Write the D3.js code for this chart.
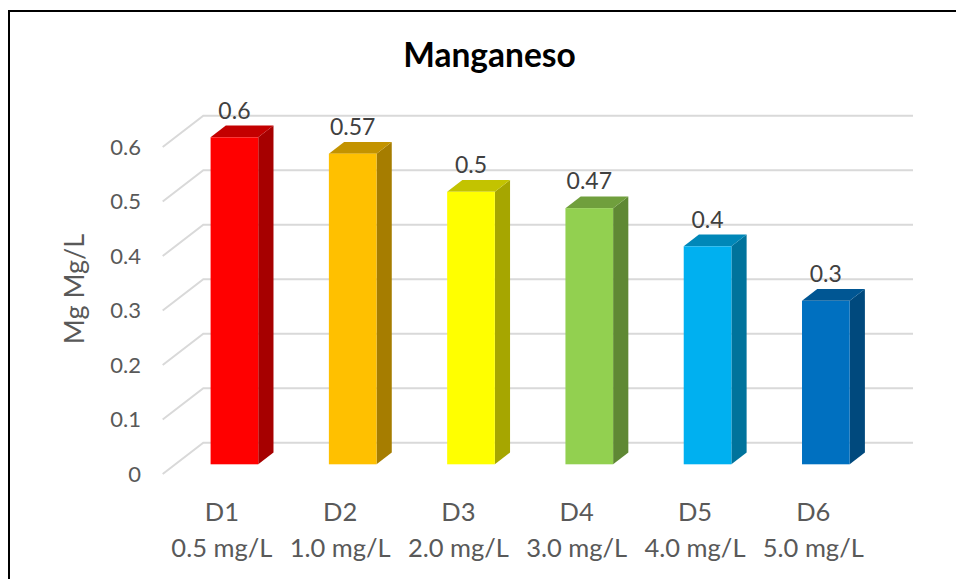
<!DOCTYPE html>
<html>
<head>
<meta charset="utf-8">
<script src="https://cdn.jsdelivr.net/npm/d3@7"></script>
<style>
  body { margin: 0; background: #fff; }
  text { font-family: Lato, "Open Sans", sans-serif; }
</style>
</head>
<body>
<svg class="chart"></svg>
<script>
const categories = ["D1", "D2", "D3", "D4", "D5", "D6"];
const doses = ["0.5 mg/L", "1.0 mg/L", "2.0 mg/L", "3.0 mg/L", "4.0 mg/L", "5.0 mg/L"];
const values = [0.6, 0.57, 0.5, 0.47, 0.4, 0.3];
const yTicks = [0, 0.1, 0.2, 0.3, 0.4, 0.5, 0.6];
const frontColors = ["#ff0000", "#ffc000", "#ffff00", "#92d050", "#00b0f0", "#0070c0"];

function draw() {
  const width = 956;
  const height = 579;
  const svg = d3.select(".chart")
      .attr("width", width)
      .attr("height", height);

  // oblique depth of the floor (front edge -> back wall)
  const depth = { dx: 40.6, dy: -31.3 };
  const barFront = 0.31, barBack = 0.685;

  const x = d3.scaleBand()
      .domain(categories)
      .range([162.7, 872.4])
      .paddingInner(0.597)
      .paddingOuter(0.2985);

  // value scale on the front plane of the floor
  const y = d3.scaleLinear().domain([0, 0.6]).range([474, 147]);

  const off = f => [depth.dx * f, depth.dy * f];

  // outer frame
  svg.append("rect")
      .attr("x", 9).attr("y", 11)
      .attr("width", 1000).attr("height", 700)
      .attr("fill", "none")
      .attr("stroke", "#000")
      .attr("stroke-width", 2);

  // title
  svg.append("text")
      .attr("x", 489.5).attr("y", 67)
      .attr("text-anchor", "middle")
      .attr("font-size", 33.5)
      .attr("font-weight", "bold")
      .attr("fill", "#000")
      .text("Manganeso");

  // back wall gridlines + side wall lines
  const grid = svg.append("g");
  const [bx, by] = off(1);
  const x0 = x.range()[0], x1 = x.range()[1];
  grid.selectAll("path")
      .data(yTicks)
      .enter()
    .append("path")
      .attr("d", d => `M${x0},${y(d)}L${x0 + bx},${y(d) + by}L${x1 + bx},${y(d) + by}`)
      .attr("fill", "none")
      .attr("stroke", "#d9d9d9")
      .attr("stroke-width", 2);

  // y axis labels
  const yAxis = d3.axisLeft(y)
      .tickValues(yTicks)
      .tickSize(0)
      .tickPadding(0)
      .tickFormat(d3.format(""));
  const ax = svg.append("g")
      .attr("transform", "translate(141,0)")
      .call(yAxis);
  ax.select(".domain").remove();
  ax.selectAll("text")
      .attr("font-size", 22)
      .attr("fill", "#595959")
      .style("font-family", "Lato, sans-serif");

  svg.append("text")
      .attr("transform", "translate(84,289) rotate(-90)")
      .attr("text-anchor", "middle")
      .attr("font-size", 27)
      .attr("fill", "#595959")
      .text("Mg Mg/L");

  // bars
  const bw = x.bandwidth();
  const [fx, fy] = off(barFront);
  const [kx, ky] = off(barBack - barFront);
  const bars = svg.append("g")
      .selectAll("g")
      .data(values)
      .enter()
    .append("g");

  const left = (d, i) => x(categories[i]) + fx;
  const top = d => y(d) + fy;
  const bottom = y(0) + fy;

  bars.append("path")
      .attr("d", (d, i) => {
        const l = left(d, i) + bw;
        return `M${l},${top(d)}L${l + kx},${top(d) + ky}L${l + kx},${bottom + ky}L${l},${bottom}Z`;
      })
      .attr("fill", (d, i) => d3.color(frontColors[i]).darker(1.2));

  bars.append("path")
      .attr("d", (d, i) => {
        const l = left(d, i);
        return `M${l},${top(d)}L${l + kx},${top(d) + ky}L${l + bw + kx},${top(d) + ky}L${l + bw},${top(d)}Z`;
      })
      .attr("fill", (d, i) => d3.color(frontColors[i]).darker(0.75));

  bars.append("rect")
      .attr("x", (d, i) => left(d, i))
      .attr("y", d => top(d))
      .attr("width", bw)
      .attr("height", d => bottom - top(d))
      .attr("fill", (d, i) => frontColors[i]);

  bars.append("text")
      .attr("x", (d, i) => left(d, i) + bw / 2)
      .attr("y", d => top(d) + ky - 7)
      .attr("text-anchor", "middle")
      .attr("font-size", 23)
      .attr("fill", "#404040")
      .text(d => d);

  // category labels
  const cats = svg.append("g")
      .selectAll("g")
      .data(categories)
      .enter()
    .append("g")
      .attr("transform", d => `translate(${x(d) + bw / 2},0)`);
  cats.append("text")
      .attr("y", 521)
      .attr("text-anchor", "middle")
      .attr("font-size", 25.5)
      .attr("fill", "#595959")
      .text(d => d);
  cats.append("text")
      .attr("y", 557)
      .attr("text-anchor", "middle")
      .attr("font-size", 25.5)
      .attr("fill", "#595959")
      .text((d, i) => doses[i]);
}

draw();
</script>
</body>
</html>
